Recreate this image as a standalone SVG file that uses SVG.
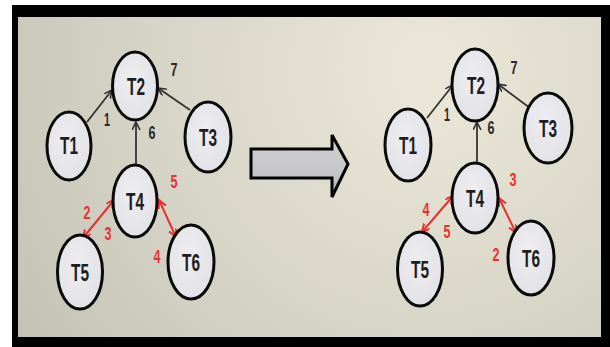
<svg xmlns="http://www.w3.org/2000/svg" width="610" height="347" viewBox="0 0 610 347">
  <defs>
    <radialGradient id="bg" cx="430" cy="70" r="520" gradientUnits="userSpaceOnUse">
      <stop offset="0" stop-color="#ebe8d9"/>
      <stop offset="0.55" stop-color="#d6d4c6"/>
      <stop offset="1" stop-color="#c2c0b3"/>
    </radialGradient>
    <linearGradient id="bigArrowFill" x1="0" y1="0" x2="0" y2="1">
      <stop offset="0" stop-color="#d2d2d4"/>
      <stop offset="0.7" stop-color="#c4c4c6"/>
      <stop offset="1" stop-color="#a9a9ab"/>
    </linearGradient>
    <radialGradient id="nodeFill" cx="0.45" cy="0.4" r="0.7">
      <stop offset="0" stop-color="#eeeef1"/>
      <stop offset="1" stop-color="#e0e0e5"/>
    </radialGradient>
    <marker id="headDark" markerWidth="10" markerHeight="10" refX="8" refY="4" orient="auto-start-reverse" markerUnits="userSpaceOnUse">
      <path d="M0,0 L8,4 L0,8" fill="none" stroke="#2f2f2f" stroke-width="1.6"/>
    </marker>
    <marker id="headRed" markerWidth="10" markerHeight="10" refX="8" refY="4" orient="auto-start-reverse" markerUnits="userSpaceOnUse">
      <path d="M0,0 L8,4 L0,8" fill="none" stroke="#ea2f2f" stroke-width="2"/>
    </marker>
  </defs>
  <style>
    .node ellipse { fill: url(#nodeFill); stroke: #0a0a0a; stroke-width: 3; }
    .node text { font-family: "Liberation Sans Narrow", "Liberation Sans", Arial, sans-serif; font-weight: bold; font-size: 23px; fill: #1d1d22; text-anchor: middle; }
    .edge { fill: none; stroke: #333; stroke-width: 1.8; marker-end: url(#headDark); }
    .redge { fill: none; stroke: #ea2f2f; stroke-width: 2; marker-start: url(#headRed); marker-end: url(#headRed); }
    .lbl { font-family: "Liberation Sans Narrow", "Liberation Sans", Arial, sans-serif; font-weight: bold; font-size: 18px; text-anchor: middle; }
    .dark { fill: #2a2a2a; }
    .red { fill: #ec3030; }
  </style>

  <!-- frame and panel -->
  <rect x="12" y="5" width="598" height="342" fill="#000"/>
  <rect x="18" y="17" width="583" height="320" fill="url(#bg)"/>

  <!-- transformation arrow -->
  <polygon id="bigArrow" points="251,149 332,149 332,135 348,164 332,197 332,178 251,178" fill="url(#bigArrowFill)" stroke="#000" stroke-width="3" stroke-linejoin="miter"/>

  <!-- connectors -->
  <g id="connectors">
    <!-- left graph -->
    <line class="edge" x1="87" y1="122" x2="112" y2="90"/>
    <line class="edge" x1="190" y1="110" x2="158" y2="88"/>
    <line class="edge" x1="136" y1="165" x2="136" y2="122"/>
    <line class="redge" x1="83" y1="238" x2="114" y2="200"/>
    <line class="redge" x1="159" y1="200" x2="176" y2="237"/>
    <!-- right graph -->
    <line class="edge" x1="427" y1="118" x2="453" y2="85"/>
    <line class="edge" x1="530" y1="108" x2="498" y2="84"/>
    <line class="edge" x1="477" y1="162" x2="477" y2="122"/>
    <line class="redge" x1="422" y1="232" x2="453" y2="196"/>
    <line class="redge" x1="499" y1="198" x2="516" y2="233"/>
  </g>

  <!-- edge weights -->
  <g id="weights">
    <text class="lbl dark" x="107" y="126" textLength="6" lengthAdjust="spacingAndGlyphs">1</text>
    <text class="lbl dark" x="152" y="139" textLength="7" lengthAdjust="spacingAndGlyphs">6</text>
    <text class="lbl dark" x="174" y="76" textLength="7" lengthAdjust="spacingAndGlyphs">7</text>
    <text class="lbl red" x="87" y="219" textLength="7" lengthAdjust="spacingAndGlyphs">2</text>
    <text class="lbl red" x="108" y="240" textLength="7" lengthAdjust="spacingAndGlyphs">3</text>
    <text class="lbl red" x="174" y="188" textLength="7" lengthAdjust="spacingAndGlyphs">5</text>
    <text class="lbl red" x="157" y="263" textLength="7" lengthAdjust="spacingAndGlyphs">4</text>

    <text class="lbl dark" x="447" y="121" textLength="6" lengthAdjust="spacingAndGlyphs">1</text>
    <text class="lbl dark" x="491" y="134" textLength="7" lengthAdjust="spacingAndGlyphs">6</text>
    <text class="lbl dark" x="514" y="74" textLength="7" lengthAdjust="spacingAndGlyphs">7</text>
    <text class="lbl red" x="426" y="216" textLength="7" lengthAdjust="spacingAndGlyphs">4</text>
    <text class="lbl red" x="447" y="238" textLength="7" lengthAdjust="spacingAndGlyphs">5</text>
    <text class="lbl red" x="513" y="186" textLength="7" lengthAdjust="spacingAndGlyphs">3</text>
    <text class="lbl red" x="496" y="261" textLength="7" lengthAdjust="spacingAndGlyphs">2</text>
  </g>

  <!-- left graph nodes -->
  <g id="L-T1" class="node"><ellipse cx="69" cy="146" rx="22" ry="34"/><text x="69" y="154" textLength="18" lengthAdjust="spacingAndGlyphs">T1</text></g>
  <g id="L-T2" class="node"><ellipse cx="135" cy="86" rx="22.5" ry="34"/><text x="136" y="95" textLength="18" lengthAdjust="spacingAndGlyphs">T2</text></g>
  <g id="L-T3" class="node"><ellipse cx="208" cy="137" rx="23" ry="35"/><text x="208" y="146" textLength="18" lengthAdjust="spacingAndGlyphs">T3</text></g>
  <g id="L-T4" class="node"><ellipse cx="135" cy="201" rx="22" ry="36"/><text x="135" y="210" textLength="18" lengthAdjust="spacingAndGlyphs">T4</text></g>
  <g id="L-T5" class="node"><ellipse cx="80" cy="272" rx="22.5" ry="37"/><text x="80" y="281" textLength="18" lengthAdjust="spacingAndGlyphs">T5</text></g>
  <g id="L-T6" class="node"><ellipse cx="191" cy="262" rx="23" ry="37"/><text x="191" y="271" textLength="18" lengthAdjust="spacingAndGlyphs">T6</text></g>

  <!-- right graph nodes -->
  <g id="R-T1" class="node"><ellipse cx="408" cy="145" rx="23" ry="36"/><text x="408" y="154" textLength="18" lengthAdjust="spacingAndGlyphs">T1</text></g>
  <g id="R-T2" class="node"><ellipse cx="475" cy="85" rx="23" ry="36"/><text x="476" y="94" textLength="18" lengthAdjust="spacingAndGlyphs">T2</text></g>
  <g id="R-T3" class="node"><ellipse cx="548" cy="128" rx="24" ry="35"/><text x="548" y="137" textLength="18" lengthAdjust="spacingAndGlyphs">T3</text></g>
  <g id="R-T4" class="node"><ellipse cx="475" cy="198" rx="23" ry="35"/><text x="475" y="207" textLength="18" lengthAdjust="spacingAndGlyphs">T4</text></g>
  <g id="R-T5" class="node"><ellipse cx="420" cy="269" rx="22.5" ry="37"/><text x="420" y="278" textLength="18" lengthAdjust="spacingAndGlyphs">T5</text></g>
  <g id="R-T6" class="node"><ellipse cx="531" cy="258" rx="23" ry="37"/><text x="531" y="267" textLength="18" lengthAdjust="spacingAndGlyphs">T6</text></g>
</svg>
